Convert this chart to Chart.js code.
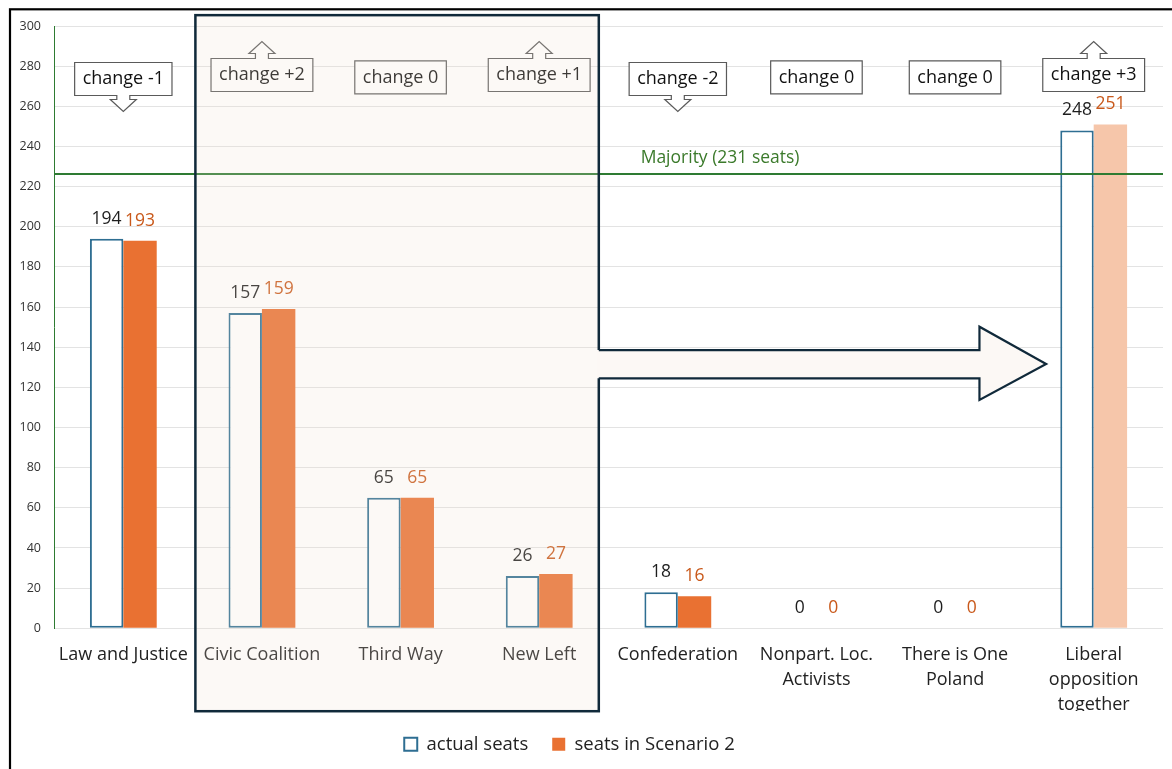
<!DOCTYPE html>
<html><head><meta charset="utf-8">
<script src="https://cdn.jsdelivr.net/npm/chart.js@4.4.1/dist/chart.umd.min.js"></script>
<style>html,body{margin:0;padding:0;background:#fff}#wrap{width:1172px;height:769px;position:relative}</style>
</head><body><div id="wrap"><canvas id="c"></canvas></div>
<script>
// ---- data ----
const categories = [['Law and Justice'], ['Civic Coalition'], ['Third Way'], ['New Left'], ['Confederation'], ['Nonpart. Loc.', 'Activists'], ['There is One', 'Poland'], ['Liberal', 'opposition', 'together']];
const actualSeats = [194, 157, 65, 26, 18, 0, 0, 248];
const scenarioSeats = [193, 159, 65, 27, 16, 0, 0, 251];
const seriesNames = ['actual seats', 'seats in Scenario 2'];
const scenarioColors = ['#E97132', '#E97132', '#E97132', '#E97132', '#E97132', '#E97132', '#E97132', '#F6C6AA'];
const yMin = 0, yMax = 300, yStep = 20;
const majorityLabel = 'Majority (231 seats)';
const majorityLineValue = 226.3;

const FONT = "'Open Sans', 'Noto Sans', sans-serif";
const LEGEND_SHIFT = -12;

function callout(ctx, cx, cy, w, h, dir) {
  const l = cx - w / 2, r = cx + w / 2, t = cy - h / 2, b = cy + h / 2;
  const sw = 6.5, hw = 13, sh = 5, hh = 12;
  ctx.beginPath();
  ctx.moveTo(l, t);
  if (dir > 0) { ctx.lineTo(cx - sw, t); ctx.lineTo(cx - sw, t - sh); ctx.lineTo(cx - hw, t - sh); ctx.lineTo(cx, t - sh - hh); ctx.lineTo(cx + hw, t - sh); ctx.lineTo(cx + sw, t - sh); ctx.lineTo(cx + sw, t); }
  ctx.lineTo(r, t); ctx.lineTo(r, b);
  if (dir < 0) { ctx.lineTo(cx + sw, b); ctx.lineTo(cx + sw, b + sh - 1); ctx.lineTo(cx + hw, b + sh - 1); ctx.lineTo(cx, b + sh + hh - 1); ctx.lineTo(cx - hw, b + sh - 1); ctx.lineTo(cx - sw, b + sh - 1); ctx.lineTo(cx - sw, b); }
  ctx.lineTo(l, b); ctx.closePath();
  ctx.fillStyle = '#fff'; ctx.fill();
  ctx.strokeStyle = '#5a5a5a'; ctx.lineWidth = 1.2; ctx.stroke();
}

const framePlugin = {
  id: 'frame',
  beforeDraw(chart) {
    const c = chart.ctx;
    c.save();
    c.fillStyle = '#fff'; c.fillRect(0, 0, chart.width, chart.height);
    c.strokeStyle = '#000'; c.lineWidth = 2.2;
    c.strokeRect(10, 9.3, chart.width + 20, chart.height + 20);
    c.restore();
  }
};

const legendShift = {
  id: 'legendShift',
  afterLayout(chart) { const L = chart.legend; if (L) { L.left += LEGEND_SHIFT; L.right += LEGEND_SHIFT; } }
};

const annot = {
  id: 'annot',
  afterDatasetsDraw(chart) {
    const { ctx, scales: { x, y }, chartArea: ca } = chart;
    const x0 = x.getPixelForValue(0), step = x.getPixelForValue(1) - x0;
    const xAt = v => x0 + v * step;
    ctx.save();
    // majority line
    const my = y.getPixelForValue(majorityLineValue);
    ctx.strokeStyle = '#2E7B32'; ctx.lineWidth = 2;
    ctx.beginPath(); ctx.moveTo(ca.left, my); ctx.lineTo(ca.right, my); ctx.stroke();
    ctx.fillStyle = '#3B7A2B'; ctx.font = '17.5px ' + FONT; ctx.textAlign = 'center'; ctx.textBaseline = 'middle';
    ctx.fillText(majorityLabel, xAt(4.305), y.getPixelForValue(234.3));
    // data labels
    const m0 = chart.getDatasetMeta(0), m1 = chart.getDatasetMeta(1);
    ctx.font = '17.5px ' + FONT;
    m0.data.forEach((b, i) => { ctx.fillStyle = '#1e1e1e'; ctx.fillText(String(actualSeats[i]), b.x, b.y - 20); });
    m1.data.forEach((b, i) => { ctx.fillStyle = '#C9591B'; ctx.fillText(String(scenarioSeats[i]), b.x, b.y - 20); });
    // change callouts
    ctx.font = '18px ' + FONT;
    categories.forEach((c, i) => {
      const d = scenarioSeats[i] - actualSeats[i];
      const txt = 'change ' + (d > 0 ? '+' + d : String(d));
      const w = ctx.measureText(txt).width + 16;
      const cyVal = d > 0 ? 275.6 : (d < 0 ? 273.6 : 274.4);
      const cx = x.getPixelForValue(i), cy = y.getPixelForValue(cyVal);
      callout(ctx, cx, cy, w, 33, Math.sign(d));
      ctx.fillStyle = '#111'; ctx.textAlign = 'center'; ctx.textBaseline = 'middle';
      ctx.fillText(txt, cx, cy);
    });
    // highlight box (overlay)
    const bl = xAt(0.52), br = xAt(3.43), bt = y.getPixelForValue(305.4), bb = y.getPixelForValue(-41.3);
    ctx.fillStyle = 'rgba(242,224,210,0.2)';
    ctx.fillRect(bl, bt, br - bl, bb - bt);
    ctx.strokeStyle = '#10293A'; ctx.lineWidth = 2.5;
    ctx.strokeRect(bl, bt, br - bl, bb - bt);
    // big arrow
    const hx = xAt(6.176), tipX = xAt(6.657);
    const sT = y.getPixelForValue(138.6), sB = y.getPixelForValue(124.5);
    const hT = y.getPixelForValue(150.2), hB = y.getPixelForValue(113.7), tY = y.getPixelForValue(131.6);
    ctx.beginPath();
    ctx.moveTo(br - 2, sT); ctx.lineTo(hx, sT); ctx.lineTo(hx, hT); ctx.lineTo(tipX, tY); ctx.lineTo(hx, hB); ctx.lineTo(hx, sB); ctx.lineTo(br - 2, sB); ctx.closePath();
    ctx.fillStyle = '#FCF8F5'; ctx.fill();
    ctx.beginPath();
    ctx.moveTo(br, sT); ctx.lineTo(hx, sT); ctx.lineTo(hx, hT); ctx.lineTo(tipX, tY); ctx.lineTo(hx, hB); ctx.lineTo(hx, sB); ctx.lineTo(br, sB);
    ctx.strokeStyle = '#10293A'; ctx.lineWidth = 2.2; ctx.lineJoin = 'miter'; ctx.stroke();
    ctx.restore();
  }
};

new Chart(document.getElementById('c'), {
  type: 'bar',
  data: {
    labels: categories,
    datasets: [
      { label: seriesNames[0], data: actualSeats, backgroundColor: '#ffffff', borderColor: '#2E6E92', borderWidth: 2, borderSkipped: false, categoryPercentage: 0.482, barPercentage: 1 },
      { label: seriesNames[1], data: scenarioSeats, backgroundColor: scenarioColors, borderWidth: 0, categoryPercentage: 0.482, barPercentage: 1 }
    ]
  },
  options: {
    responsive: true, maintainAspectRatio: false, animation: false,
    layout: { padding: { left: 0, right: 9, top: 26, bottom: 5.5 } },
    plugins: {
      tooltip: { enabled: false },
      legend: {
        position: 'bottom',
        labels: {
          boxWidth: 13, boxHeight: 13, padding: 24, color: '#222', font: { family: FONT, size: 18.5 },
          generateLabels(chart) {
            const items = Chart.defaults.plugins.legend.labels.generateLabels(chart);
            items[0].fillStyle = '#fff'; items[0].strokeStyle = '#2E6E92'; items[0].lineWidth = 2;
            items[1].fillStyle = '#E97132'; items[1].strokeStyle = '#E97132'; items[1].lineWidth = 0;
            return items;
          }
        }
      }
    },
    scales: {
      x: {
        grid: { display: false, drawTicks: false },
        border: { display: false },
        ticks: { color: '#222', font: { family: FONT, size: 18, lineHeight: 1.4 }, padding: 14, maxRotation: 0, autoSkip: false },
        afterFit(s) { s.height = 82.7; }
      },
      y: {
        min: yMin, max: yMax,
        grid: { color: '#E3E3E3', lineWidth: 1, drawTicks: false },
        border: { color: '#2E7B32', width: 1 },
        ticks: { stepSize: yStep, color: '#333', font: { family: FONT, size: 12.5 }, padding: 13 },
        afterFit(s) { s.width = 54; }
      }
    }
  },
  plugins: [framePlugin, legendShift, annot]
});
</script>
</body></html>
